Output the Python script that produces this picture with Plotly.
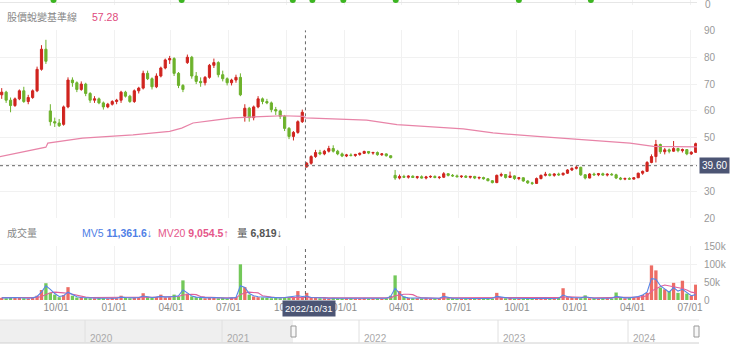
import pandas as pd
import plotly.graph_objects as go

# ---------------- data (weekly) ----------------
week_dates = pd.date_range("2021-07-07", periods=158, freq="7D")

open_ = [66, 67, 64, 62, 64.5, 67.5, 63.5, 65, 67.5, 75.5, 83, 60, 56, 55.5, 55, 61.5, 71.5, 70.5, 68, 70,
         66.5, 64, 64.5, 63, 61.5, 62.5, 63.5, 64, 67, 65.5, 63.5, 67.5, 68.5, 74, 72, 69, 73, 76, 79, 79.5,
         74, 69.5, 78, 80, 73, 71, 70.5, 72.5, 77, 78, 73.5, 72, 70.5, 71.5, 72.5, 58, 61, 57.5, 61.5, 64.5,
         63.5, 63, 60.5, 60, 58, 53.5, 50.5, 52, 56, 39.2, 40.5, 43, 44.5, 44, 45, 46, 45, 44, 43.2, 43.6,
         43.4, 43.8, 44.2, 44.9, 44.3, 44.5, 43.7, 44, 43.3, 36, 35, 35.6, 35.3, 35.7, 35.2, 35.5, 35, 35.4, 35.6, 35.2,
         35.3, 36.6, 36, 35.8, 35.5, 35.7, 35.3, 35.6, 35, 35.2, 34.7, 34, 33.3, 36, 36.3, 35.2, 35.8, 34.8, 35.1, 33.9,
         33.2, 33, 34.8, 36, 36.4, 36, 36.5, 36.2, 36.8, 38, 38.6, 39, 36.2, 35, 36.5, 36.2, 36.6, 36.1, 36.4, 36.2,
         35, 34.6, 34.8, 34.6, 35.1, 36.8, 37.5, 40.8, 43, 47.5, 44.8, 45.5, 45, 46, 45.2, 45.6, 44, 44.6]
high_ = [68.5, 67.5, 65, 65, 68, 69, 66, 68, 76.5, 84.5, 86.5, 62.5, 57.5, 57, 62, 72.5, 72.5, 71, 71, 70.5,
         67, 65.5, 65, 63.5, 63, 64, 64.5, 67.5, 67.5, 66, 68, 69, 75, 75, 72.5, 74, 76.5, 79.5, 80.5, 80,
         74.5, 70, 81, 80.5, 74.5, 72.5, 73, 77.5, 79.5, 78.5, 75, 72.5, 72, 73.5, 74, 62.5, 61.5, 62, 65.5, 65,
         64.5, 63.5, 61.5, 60.5, 58.5, 54, 52.5, 56.5, 60.5, 41, 43.5, 45.5, 45.5, 45.5, 47, 47.2, 45.5, 44.5, 44, 44.2,
         44, 44.5, 45.2, 45, 44.8, 44.9, 44.3, 44.2, 43.5, 38, 36.3, 36.2, 36, 36, 35.8, 36, 35.8, 36, 36, 35.7,
         37.2, 36.8, 36.5, 36.3, 36, 36.1, 35.8, 35.8, 35.6, 35.5, 35, 34.2, 36.3, 37, 36.5, 37.4, 36, 35.4, 35.3, 34.2,
         33.6, 35.2, 36.3, 37.3, 36.8, 36.8, 37, 37, 38.3, 39, 39.6, 39.2, 36.5, 36.8, 37, 36.9, 37, 36.8, 36.9, 36.6,
         35.4, 35.2, 35.3, 35.3, 37, 37.8, 41.3, 43.8, 49.2, 47.8, 46.2, 46, 48.8, 46.3, 46, 45.8, 45, 48.2]
low_ = [64.5, 63, 59.5, 61.5, 64, 63, 62.5, 64.5, 67, 75, 77.5, 54.5, 54, 54, 54.5, 61, 69, 67, 67.5, 65.5,
        63, 63, 62.5, 60.5, 61, 62, 62.5, 63, 65, 63, 63, 66.5, 68, 71.5, 68, 68.5, 72.5, 75.5, 77.5, 73,
        68.5, 67, 77.5, 72, 70, 69, 69.5, 72, 76, 72.5, 71, 69.5, 69.5, 70.5, 65.5, 56, 56, 56.5, 61, 62.5,
        62.5, 59.5, 58.5, 57, 52.5, 49.5, 49, 51.5, 55.5, 38.8, 40, 42.5, 43.5, 43.5, 44.5, 44.5, 43.5, 42.8, 42.8, 43,
        42.9, 43.3, 44, 43.9, 43.7, 43.3, 43.2, 43, 42.3, 34.3, 34.5, 35, 34.8, 35, 34.6, 34.8, 34.5, 35, 34.9, 34.6,
        35, 35.6, 35.4, 35.2, 35, 35, 34.8, 34.6, 34.5, 34.4, 33.8, 33, 33.1, 35.4, 34.8, 35, 34.3, 34.2, 33.6, 32.8,
        32.4, 32.8, 34.5, 35.6, 35.6, 35.5, 35.8, 35.9, 36.5, 37.6, 38.2, 35.8, 34.5, 34.9, 35.8, 35.7, 35.9, 35.6, 35.9, 34.6,
        34.2, 34.2, 34.3, 34.4, 35, 36.2, 37.3, 40.5, 40.8, 44, 43.8, 44.2, 44.8, 44.6, 44.5, 43.5, 43.6, 44.4]
close_ = [67, 64, 62, 64.5, 67.5, 63.5, 65, 67.5, 75.5, 83, 78.5, 56, 55.5, 54.5, 61.5, 71.5, 70.5, 68, 70, 66.5,
          64, 64.5, 63, 61.5, 62.5, 63.5, 64, 67, 65.5, 63.5, 67.5, 68.5, 74, 72, 69, 73, 76, 79, 79.5, 74,
          69.5, 68, 80, 73, 71, 70.5, 72.5, 77, 78, 73.5, 72, 70.5, 71.5, 72.5, 66, 61, 57.5, 61.5, 64.5, 63.5,
          63, 60.5, 60, 58, 53.5, 50.5, 52, 56, 59.5, 40.5, 43, 44.5, 44, 45, 46, 45, 44, 43.2, 43.6, 43.4,
          43.8, 44.2, 44.9, 44.3, 44.5, 43.7, 44, 43.3, 42.6, 35, 35.6, 35.3, 35.7, 35.2, 35.5, 35, 35.4, 35.6, 35.2, 35.3,
          36.6, 36, 35.8, 35.5, 35.7, 35.3, 35.6, 35, 35.2, 34.7, 34, 33.3, 36, 36.3, 35.2, 35.8, 34.8, 35.1, 33.9, 33.2,
          33, 34.8, 36, 36.4, 36, 36.5, 36.2, 36.8, 38, 38.6, 39, 36.2, 35, 36.5, 36.2, 36.6, 36.1, 36.4, 36.2, 35,
          34.6, 34.8, 34.6, 35.1, 36.8, 37.5, 40.8, 43, 47.5, 44.8, 45.5, 45, 46, 45.2, 45.6, 44, 44.6, 47.8]

# volume in thousands of shares
volume_k = [6, 5, 7, 8, 6, 5, 4, 7, 12, 28, 47, 20, 15, 8, 14, 36, 12, 7,
            8, 6, 5, 5, 6, 5, 4, 6, 5,
            12, 6, 5, 7, 8, 19, 9, 6, 9, 15, 7, 8, 15, 10, 55, 18, 10,
            8, 6, 5, 6, 7, 5, 6, 4, 6, 8,
            100, 36, 15, 10,
            8, 7, 6, 5, 6, 5, 7, 9, 8,
            25, 9, 20,
            7, 6, 5, 5, 4, 6, 5, 4, 5, 5, 4, 4, 5, 4, 4, 5, 4, 5,
            12, 69, 25, 10,
            6, 5, 5, 4, 5, 4, 4, 5,
            20,
            6, 5, 4, 4, 4, 4, 5, 4, 3, 5, 4,
            20, 8,
            5, 6, 4, 4, 4, 5, 4, 5, 6, 4, 4, 5, 6,
            33, 8, 7, 6, 5, 13,
            5, 5, 4, 5, 5, 4,
            21, 6, 5, 6, 7,
            10, 14, 20, 97, 83, 35, 30, 25, 48, 20, 54, 18, 12, 43]
mv5_k = [6, 5, 6, 7, 6, 6, 5, 6, 10, 22, 40, 30, 18, 10, 12, 22, 15, 9,
         7, 6, 6, 5, 5, 5, 6, 5, 5,
         8, 7, 6, 6, 7, 11, 9, 7, 8, 10, 8, 8, 10, 12, 28, 20, 11,
         8, 7, 6, 6, 7, 6, 6, 5, 6, 7,
         40, 35, 18, 12,
         9, 8, 7, 6, 6, 6, 7, 8, 9,
         12, 10, 11,
         7, 6, 6, 5, 5, 5, 6, 5, 5, 5, 5, 4, 4, 5, 5, 4, 5, 5,
         10, 33, 18, 8,
         6, 6, 5, 5, 5, 5, 4, 5,
         10,
         7, 5, 5, 4, 4, 4, 4, 5, 4, 4, 5,
         10, 8,
         6, 5, 5, 4, 4, 4, 4, 5, 5, 5, 4, 5, 5,
         14, 9, 7, 6, 6, 9,
         6, 5, 5, 5, 5, 5,
         10, 7, 6, 6, 7,
         10, 14, 22, 60, 58, 40, 30, 22, 35, 25, 30, 20, 12, 15]
mv20_k = [7, 7, 6, 6, 6, 6, 6, 6, 7, 10, 16, 20, 22, 22, 20, 19, 16, 12,
          10, 8, 7, 7, 6, 6, 6, 6, 6,
          6, 6, 7, 7, 7, 8, 8, 8, 8, 9, 9, 9, 9, 10, 14, 16, 16,
          15, 10, 8, 7, 7, 6, 6, 6, 6, 6,
          15, 20, 22, 22,
          20, 12, 9, 8, 7, 7, 7, 7, 8,
          8, 9, 9,
          9, 8, 8, 7, 6, 6, 5, 5, 5, 5, 5, 5, 5, 5, 5, 5, 5, 5,
          6, 12, 15, 16,
          16, 15, 9, 6, 6, 5, 5, 5,
          6,
          6, 6, 6, 5, 5, 5, 5, 5, 5, 5, 5,
          6, 6,
          6, 6, 5, 5, 5, 5, 5, 5, 5, 5, 5, 5, 5,
          7, 9, 9, 9, 8, 7,
          7, 6, 6, 6, 6, 6,
          7, 7, 7, 7, 7,
          8, 9, 12, 25, 32, 38, 42, 40, 38, 35, 32, 28, 22, 20]

# 股價蛻變基準線
base_dates = ["2021-07-04", "2021-09-10", "2021-09-15", "2021-09-18", "2021-11-12", "2022-01-31",
              "2022-02-27", "2022-03-30", "2022-04-18", "2022-05-06", "2022-06-07", "2022-07-08",
              "2022-08-31", "2022-09-25", "2022-10-28", "2022-10-31", "2023-02-05", "2023-03-25",
              "2023-07-08", "2023-08-24", "2023-11-02", "2024-01-20", "2024-03-28", "2024-05-04",
              "2024-07-12"]
base_vals = [43.0, 46.3, 46.5, 48.0, 49.9, 51.1, 51.8, 52.4, 53.6, 55.5, 56.5, 57.4, 58.0, 58.2, 58.0,
             57.4, 56.6, 54.9, 53.3, 51.8, 50.5, 49.3, 48.0, 46.8, 46.6]

# signal dots in the clipped top panel
signal_dates = ["2021-09-27", "2022-04-18", "2022-10-11", "2022-11-11", "2022-12-30",
                "2023-03-23", "2023-10-04", "2024-01-26"]
signal_vals = [2, 2, 2, 2, 2, 2, 2, 2]

price_ticks = [20, 30, 40, 50, 60, 70, 80, 90]
price_tick_text = ["20", "30", "", "50", "60", "70", "80", "90"]   # "40" hidden under the 39.60 tag
vol_ticks = [0, 50, 100, 150]
vol_tick_text = ["0", "50k", "100k", "150k"]
years = ["2020", "2021", "2022", "2023", "2024"]

cross_date = "2022-10-31"
cross_price = 39.60

# ---------------- styling / layout helpers ----------------
W_PLOT = 697.0
H = 356.0


def xp(px):
    return px / W_PLOT


def yp(py):
    return (H - py) / H


RED = "#d0241f"
GREEN = "#6db22c"
GRID = "#f1f1f1"
TXT = "#8c8c8c"
FONT = "Liberation Sans, Noto Sans CJK TC, sans-serif"

fig = go.Figure()

fig.add_trace(go.Candlestick(
    x=week_dates, open=open_, high=high_, low=low_, close=close_,
    increasing=dict(line=dict(color=RED, width=1), fillcolor=RED),
    decreasing=dict(line=dict(color=GREEN, width=1), fillcolor=GREEN),
    whiskerwidth=0, xaxis="x", yaxis="y", showlegend=False, hoverinfo="skip"))

fig.add_trace(go.Scatter(x=base_dates, y=base_vals, mode="lines",
                         line=dict(color="#e884a8", width=1.2), xaxis="x", yaxis="y",
                         showlegend=False, hoverinfo="skip"))

bar_colors = ["rgba(232,72,62,0.8)" if c >= o else "rgba(90,190,60,0.85)"
              for o, c in zip(open_, close_)]
fig.add_trace(go.Bar(x=week_dates, y=volume_k, marker=dict(color=bar_colors, line=dict(width=0)),
                     xaxis="x", yaxis="y2", showlegend=False, hoverinfo="skip"))
fig.add_trace(go.Scatter(x=week_dates, y=mv20_k, mode="lines",
                         line=dict(color="#e0609a", width=1.1), xaxis="x", yaxis="y2",
                         showlegend=False, hoverinfo="skip"))
fig.add_trace(go.Scatter(x=week_dates, y=mv5_k, mode="lines",
                         line=dict(color="#5585e8", width=1.1), xaxis="x", yaxis="y2",
                         showlegend=False, hoverinfo="skip"))

fig.add_trace(go.Scatter(x=signal_dates, y=signal_vals, mode="markers",
                         marker=dict(color="#3cb521", size=6), xaxis="x", yaxis="y3",
                         showlegend=False, hoverinfo="skip"))

shapes = []
# crosshair
for top, bot in [(30.4, 218.3), (246.3, 300)]:
    shapes.append(dict(type="line", xref="x", yref="paper", x0=cross_date, x1=cross_date,
                       y0=yp(bot), y1=yp(top), line=dict(color="#666", width=1, dash="dot")))
shapes.append(dict(type="line", xref="paper", yref="y", x0=0, x1=1, y0=cross_price, y1=cross_price,
                   line=dict(color="#666", width=1, dash="dot")))

# navigator
shapes.append(dict(type="rect", xref="paper", yref="paper", x0=0, x1=xp(293), y0=yp(343), y1=yp(320),
                   fillcolor="#efefef", line=dict(width=0), layer="below"))
shapes.append(dict(type="line", xref="paper", yref="paper", x0=0, x1=xp(699), y0=yp(320), y1=yp(320),
                   line=dict(color="#e2e2e2", width=1)))
shapes.append(dict(type="line", xref="paper", yref="paper", x0=0, x1=xp(699), y0=yp(343), y1=yp(343),
                   line=dict(color="#d0d0d0", width=1)))
year_px = [85, 222, 359, 498, 628]
for px in year_px:
    shapes.append(dict(type="line", xref="paper", yref="paper", x0=xp(px), x1=xp(px), y0=yp(343), y1=yp(320),
                       line=dict(color="#e0e0e0", width=1)))
for hx in [291, 694]:
    shapes.append(dict(type="rect", xref="paper", yref="paper", x0=xp(hx), x1=xp(hx + 5),
                       y0=yp(337), y1=yp(326), fillcolor="#f7f7f7", line=dict(color="#999", width=1)))

annotations = []
for px, yr in zip(year_px, years):
    annotations.append(dict(x=xp(px + 3), y=yp(338), xref="paper", yref="paper", text=yr,
                            showarrow=False, xanchor="left", yanchor="middle",
                            font=dict(size=10, color="#aaa", family=FONT)))

annotations += [
    dict(x=xp(5), y=yp(17), xref="paper", yref="paper", text="股價蛻變基準線", showarrow=False,
         xanchor="left", yanchor="middle", font=dict(size=10, color="#888", family=FONT)),
    dict(x=xp(90), y=yp(17), xref="paper", yref="paper", text="57.28", showarrow=False,
         xanchor="left", yanchor="middle", font=dict(size=10.5, color="#e04a7c", family=FONT)),
    dict(x=xp(5), y=yp(233), xref="paper", yref="paper", text="成交量", showarrow=False,
         xanchor="left", yanchor="middle", font=dict(size=10, color="#888", family=FONT)),
    dict(x=xp(80), y=yp(233), xref="paper", yref="paper",
         text="MV5 <b>11,361.6</b>↓", showarrow=False,
         xanchor="left", yanchor="middle", font=dict(size=10.5, color="#4f80e6", family=FONT)),
    dict(x=xp(156), y=yp(233), xref="paper", yref="paper",
         text="MV20 <b>9,054.5</b>↑", showarrow=False,
         xanchor="left", yanchor="middle", font=dict(size=10.5, color="#e5578a", family=FONT)),
    dict(x=xp(235), y=yp(233), xref="paper", yref="paper",
         text="量 <b>6,819</b>↓", showarrow=False,
         xanchor="left", yanchor="middle", font=dict(size=10.5, color="#555", family=FONT)),
    dict(x=xp(703), y=yp(4), xref="paper", yref="paper", text="0", showarrow=False,
         xanchor="left", yanchor="middle", font=dict(size=10, color="#999", family=FONT)),
    # crosshair labels
    dict(x=1, y=cross_price, xref="paper", yref="y", text="39.60", showarrow=False,
         xanchor="left", yanchor="middle", xshift=2, bgcolor="#4c5574", borderpad=2,
         font=dict(size=10, color="white", family=FONT)),
    dict(x=cross_date, y=yp(308), xref="x", yref="paper", text="2022/10/31", showarrow=False,
         xanchor="center", yanchor="middle", xshift=4, bgcolor="#4c5574", borderpad=2,
         font=dict(size=9.5, color="white", family=FONT)),
]

fig.update_layout(
    width=740, height=356,
    margin=dict(l=0, r=43, t=0, b=0, pad=0, autoexpand=False),
    paper_bgcolor="white", plot_bgcolor="white",
    font=dict(family=FONT, color=TXT, size=10),
    bargap=0.25,
    hovermode=False,
    xaxis=dict(domain=[0, 1], anchor="y2", type="date", automargin=False,
               range=["2021-07-04 07:00", "2024-07-12 02:00"],
               tick0="2021-10-01", dtick="M3", tickformat="%m/%d",
               showgrid=True, gridcolor=GRID, gridwidth=1, zeroline=False,
               showline=False, ticks="", tickfont=dict(size=10, color=TXT),
               rangeslider=dict(visible=False), fixedrange=True),
    yaxis=dict(domain=[yp(218.3), yp(30.4)], range=[20, 90], side="right", anchor="x",
               automargin=False, tickvals=price_ticks, ticktext=price_tick_text,
               showgrid=True, gridcolor=GRID, zeroline=False,
               ticks="", ticklabelstandoff=6, tickfont=dict(size=10, color="#999")),
    yaxis2=dict(domain=[yp(300), yp(246.3)], range=[0, 150.5], side="right", anchor="x",
                automargin=False, tickvals=vol_ticks, ticktext=vol_tick_text, showgrid=True,
                gridcolor=GRID, zeroline=False, ticks="", ticklabelstandoff=6,
                tickfont=dict(size=10, color="#999")),
    yaxis3=dict(domain=[yp(5), 1], range=[-3, 2], side="right", anchor="x", automargin=False,
                tickvals=[0], showticklabels=False, showgrid=True, gridcolor="#e6e6e6",
                zeroline=False, ticks=""),
    shapes=shapes,
    annotations=annotations,
)

fig.write_html(
    "out.html",
    config={"displayModeBar": False, "staticPlot": True},
    post_script="document.body.style.margin='0px';document.body.style.overflow='hidden';"
                "document.documentElement.style.overflow='hidden';",
)
